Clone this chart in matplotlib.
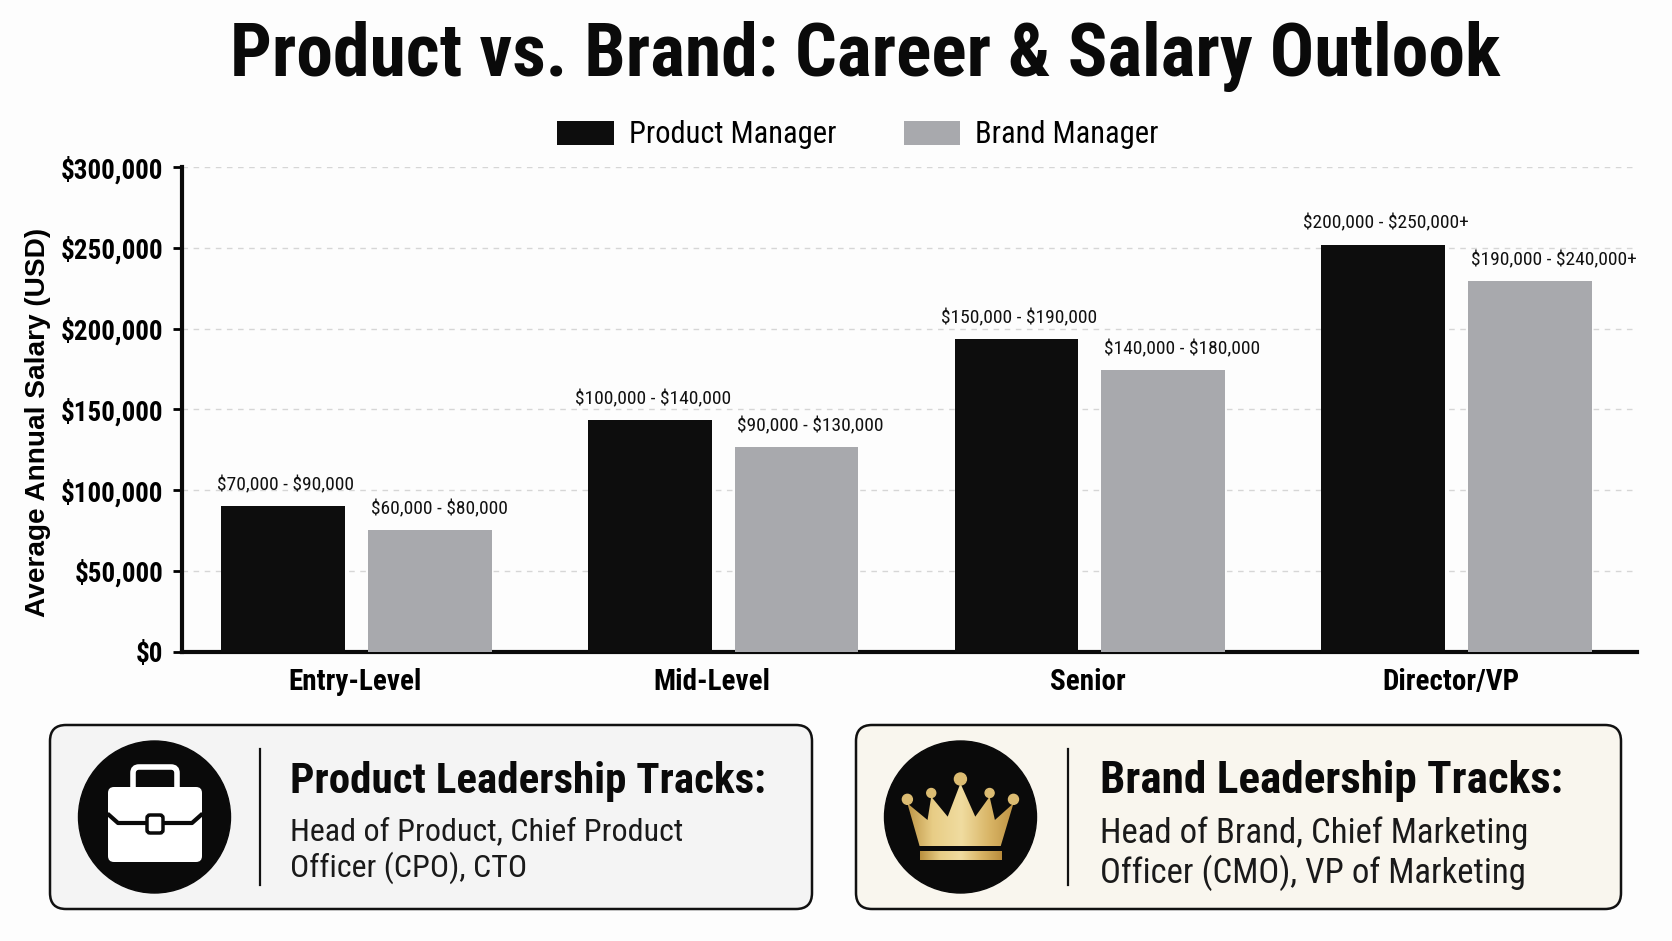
import numpy as np
import matplotlib
matplotlib.use('Agg')
import matplotlib.pyplot as plt
from matplotlib.colors import LinearSegmentedColormap
from matplotlib.patches import Circle, FancyBboxPatch, Polygon
from matplotlib.ticker import FuncFormatter

levels = ['Entry-Level', 'Mid-Level', 'Senior', 'Director/VP']
product_salary = [90000, 143500, 193500, 252000]
brand_salary = [75000, 126500, 174500, 229500]
product_ranges = ['\\$70,000 - \\$90,000', '\\$100,000 - \\$140,000', '\\$150,000 - \\$190,000', '\\$200,000 - \\$250,000+']
brand_ranges = ['\\$60,000 - \\$80,000', '\\$90,000 - \\$130,000', '\\$140,000 - \\$180,000', '\\$190,000 - \\$240,000+']
y_ticks = [0, 50000, 100000, 150000, 200000, 250000, 300000]

NARROW = ['Roboto Condensed', 'Roboto', 'DejaVu Sans']
WIDE = ['Liberation Sans', 'DejaVu Sans']
W, H = 1672, 941
BG = '#fdfdfd'
BLACK = '#0d0d0d'
GREY = '#a8a9ad'

plt.rcParams['font.family'] = NARROW
fig = plt.figure(figsize=(W / 100, H / 100), dpi=100, facecolor=BG)

# page layer in pixel coordinates, used for the title and the two cards
page = fig.add_axes([0, 0, 1, 1])
page.set_xlim(0, W)
page.set_ylim(H, 0)
page.axis('off')

page.text(865, 56, 'Product vs. Brand: Career & Salary Outlook', ha='center', va='center',
          fontsize=53, fontweight='bold', color='#0a0a0a')

# chart
ax = fig.add_axes([182 / W, 1 - 651.5 / H, (1637 - 182) / W, (651.5 - 167) / H])
ax.patch.set_alpha(0)
x = np.arange(len(levels))
width = 0.338
offset = 0.2
bars_p = ax.bar(x - offset, product_salary, width, color=BLACK, label='Product Manager', zorder=3)
bars_b = ax.bar(x + offset, brand_salary, width, color=GREY, label='Brand Manager', zorder=3)

ax.set_xlim(-0.4756, 3.492)
ax.set_ylim(0, 300000)
ax.set_yticks(y_ticks)
ax.yaxis.set_major_formatter(FuncFormatter(lambda v, _: f'\\${v:,.0f}'))
# category names sit a little left of the group centres
ax.set_xticks(x - np.array([0.005, 0.03, 0.005, 0.015]))
ax.set_xticklabels(levels, fontsize=21, fontweight='bold')
ax.tick_params(axis='x', length=0, pad=12)
ax.tick_params(axis='y', length=6.5, width=2, pad=7, labelsize=19.5)
for lab in ax.get_yticklabels():
    lab.set_fontweight('bold')
ax.grid(axis='y', linestyle=(0, (4, 4)), color='#d6d6d6', linewidth=1, zorder=0)
ax.set_axisbelow(True)
for side in ['top', 'right']:
    ax.spines[side].set_visible(False)
for side in ['left', 'bottom']:
    ax.spines[side].set_linewidth(3)
    ax.spines[side].set_color('#0a0a0a')
ax.set_ylabel('Average Annual Salary (USD)', fontsize=20.2, fontweight='bold', family=WIDE)
ax.yaxis.set_label_coords((51 - 182) / (1637 - 182), 0.4725)

for bar, txt in zip(bars_p, product_ranges):
    ax.annotate(txt, (bar.get_x() + bar.get_width() / 2, bar.get_height()), xytext=(2, 15),
                textcoords='offset points', ha='center', va='center', fontsize=14,
                color='#111111', annotation_clip=False)
for bar, txt in zip(bars_b, brand_ranges):
    ax.annotate(txt, (bar.get_x(), bar.get_height()), xytext=(2, 15),
                textcoords='offset points', ha='left', va='center', fontsize=14,
                color='#111111', annotation_clip=False)

ax.legend(loc='center', bbox_to_anchor=((858 - 182) / (1637 - 182), (651.5 - 135) / (651.5 - 167)),
          ncol=2, frameon=False, fontsize=22, handlelength=1.85, handleheight=0.8,
          handletextpad=0.5, columnspacing=2.2, borderpad=0, borderaxespad=0)


def draw_card(left, right, face, heading, head_size, lines, body_size, circle_x, divider_x, text_x, line_ys):
    page.add_patch(FancyBboxPatch((left + 16, 725 + 16), right - left - 32, 184 - 32,
                                  boxstyle='round,pad=16,rounding_size=16', facecolor=face,
                                  edgecolor='#111111', linewidth=1.8))
    page.add_patch(Circle((circle_x, 817), 76, color='#0a0a0a', zorder=3))
    page.plot([divider_x, divider_x], [749, 885], color='#111111', lw=1.6)
    page.text(text_x, 781, heading, fontsize=head_size, fontweight='bold', va='center', color='#0a0a0a')
    for txt, y in zip(lines, line_ys):
        page.text(text_x, y, txt, fontsize=body_size, va='center', color='#1a1a1a')


draw_card(50, 812, '#f4f4f4', 'Product Leadership Tracks:', 31,
          ['Head of Product, Chief Product', 'Officer (CPO), CTO'], 23, 154.5, 260, 290, [832, 868])
draw_card(856, 1621, '#f9f6ee', 'Brand Leadership Tracks:', 32.5,
          ['Head of Brand, Chief Marketing', 'Officer (CMO), VP of Marketing'], 25, 960.5, 1068, 1100, [833, 873])

# briefcase icon
page.add_patch(FancyBboxPatch((137, 771), 36, 30, boxstyle='round,pad=4,rounding_size=6',
                              facecolor='none', edgecolor='white', linewidth=4, zorder=4))
page.add_patch(FancyBboxPatch((112, 791), 86, 67, boxstyle='round,pad=4,rounding_size=6',
                              facecolor='white', edgecolor='none', zorder=5))
page.plot([109, 118, 192, 201], [815, 823, 823, 815], color='#0a0a0a', lw=3, zorder=6)
page.add_patch(FancyBboxPatch((149, 817), 12, 14, boxstyle='round,pad=2,rounding_size=3',
                              facecolor='white', edgecolor='#0a0a0a', linewidth=2.5, zorder=7))

# crown icon with a gold gradient clipped to its outline
cx = lambda v: 840 + v / 1.885
cy = lambda v: 700 + v / 3
crown_x = [150, 127, 165, 172, 203, 227, 255, 282, 292, 327, 303]
crown_y = [438, 310, 360, 290, 350, 250, 350, 290, 360, 310, 438]
outline = Polygon(list(zip(map(cx, crown_x), map(cy, crown_y))), closed=True, transform=page.transData,
                  facecolor='none', edgecolor='none')
page.add_patch(outline)
shades = LinearSegmentedColormap.from_list('gold', ['#b98f3e', '#e8cd86', '#f0dca0', '#d8b465', '#b98c3c'])
ramp = np.linspace(0, 1, 256).reshape(1, -1)
crown = page.imshow(ramp, cmap=shades, extent=(cx(120), cx(335), cy(445), cy(240)), aspect='auto', zorder=5)
crown.set_clip_path(outline)
page.imshow(ramp, cmap=shades, extent=(cx(150), cx(303), cy(480), cy(455)), aspect='auto', zorder=5)
page.set_xlim(0, W)
page.set_ylim(H, 0)
for bx, by, r in [(127, 298, 5), (172, 279, 4.5), (227, 237, 6), (282, 279, 4.5), (327, 298, 5)]:
    page.add_patch(Circle((cx(bx), cy(by)), r, color='#dcbc72', zorder=6))

fig.savefig('out.png', dpi=100, facecolor=BG)
